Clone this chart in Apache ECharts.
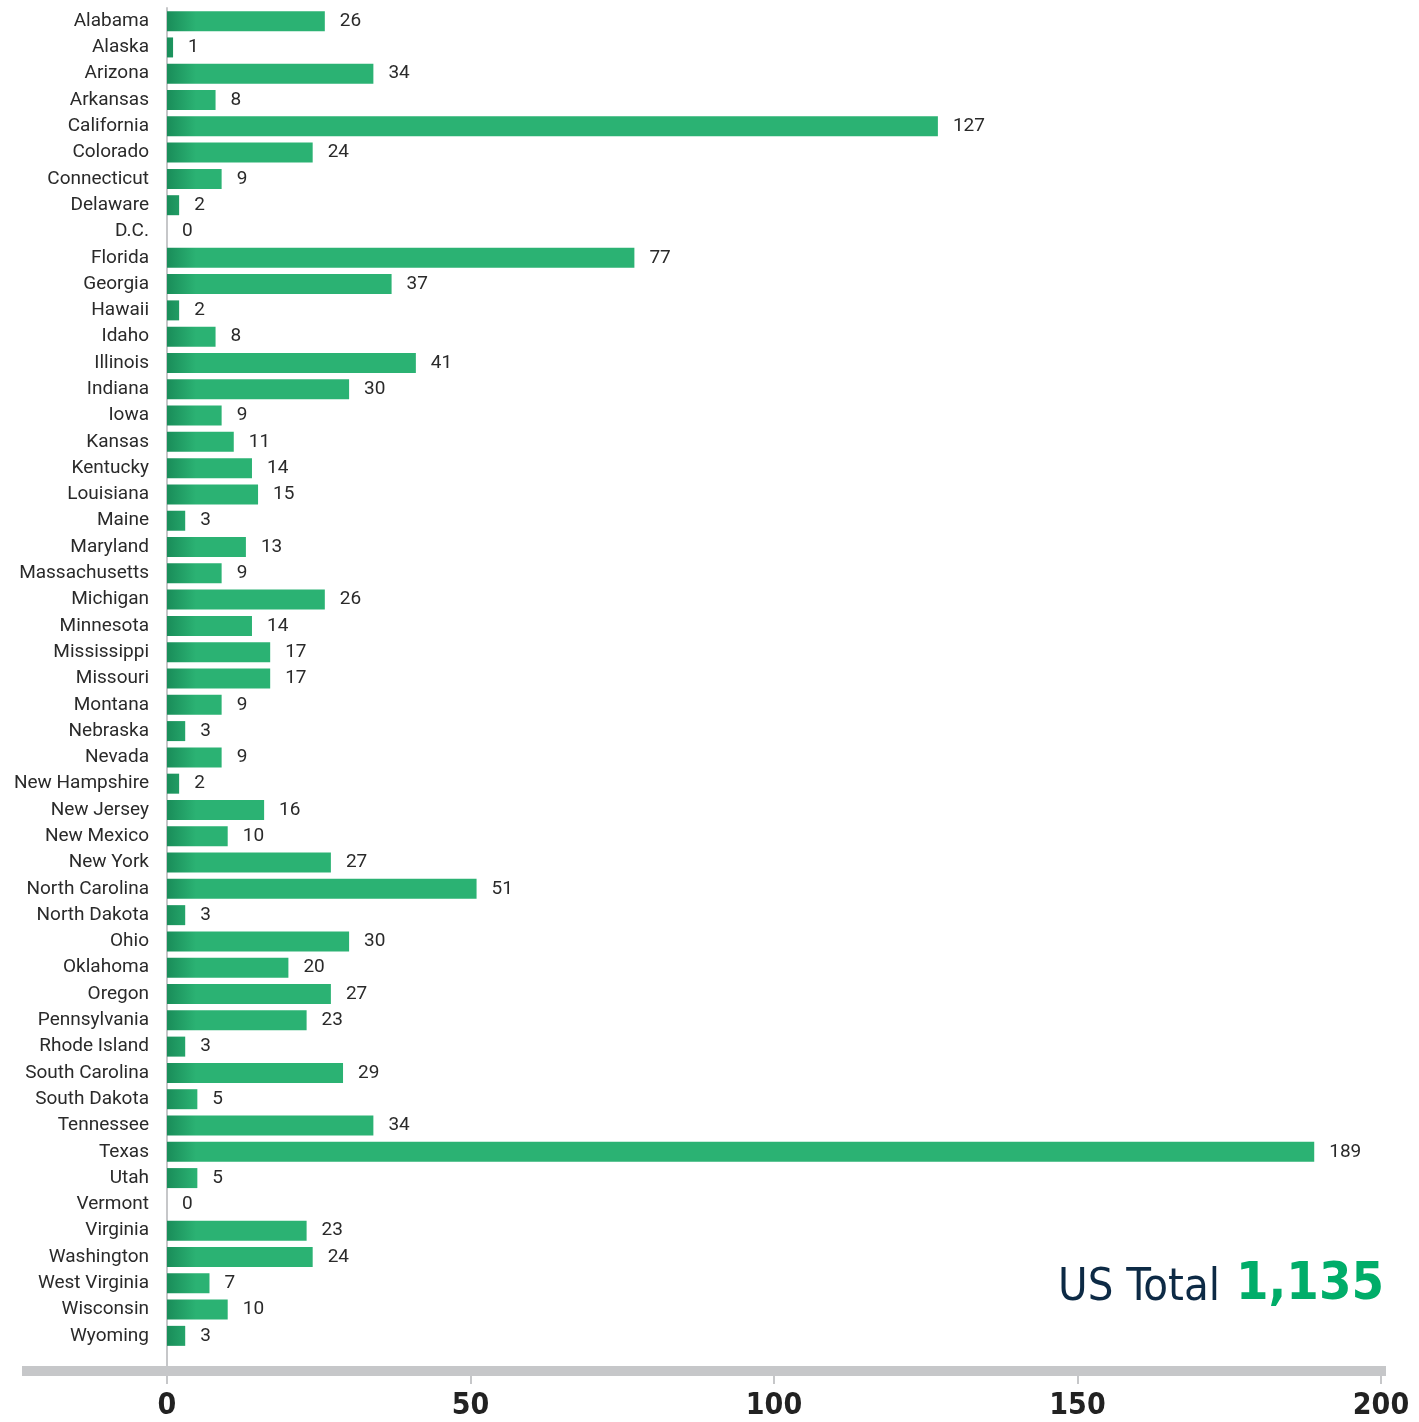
<!DOCTYPE html>
<html>
<head>
<meta charset="utf-8">
<script src="https://cdn.jsdelivr.net/npm/echarts@6/dist/echarts.min.js"></script>
<style>
html,body{margin:0;padding:0;background:#fff;}
#c{width:1419px;height:1422px;}
</style>
</head>
<body>
<div id="c"></div>
<script>
const states = ["Alabama","Alaska","Arizona","Arkansas","California","Colorado","Connecticut","Delaware","D.C.","Florida","Georgia","Hawaii","Idaho","Illinois","Indiana","Iowa","Kansas","Kentucky","Louisiana","Maine","Maryland","Massachusetts","Michigan","Minnesota","Mississippi","Missouri","Montana","Nebraska","Nevada","New Hampshire","New Jersey","New Mexico","New York","North Carolina","North Dakota","Ohio","Oklahoma","Oregon","Pennsylvania","Rhode Island","South Carolina","South Dakota","Tennessee","Texas","Utah","Vermont","Virginia","Washington","West Virginia","Wisconsin","Wyoming"];
const counts = [26,1,34,8,127,24,9,2,0,77,37,2,8,41,30,9,11,14,15,3,13,9,26,14,17,17,9,3,9,2,16,10,27,51,3,30,20,27,23,3,29,5,34,189,5,0,23,24,7,10,3];
const xTicks = [0,50,100,150,200];
const totalLabel = "US Total";
const totalValue = "1,135";

const chart = echarts.init(document.getElementById('c'), null, {renderer:'canvas'});
const labelFont = '"Roboto", "DejaVu Sans", sans-serif';
const condFont = '"DejaVu Sans Condensed", "Roboto", sans-serif';
const option = {
  animation:false,
  backgroundColor:'#ffffff',
  grid:{left:167, right:38, top:8, bottom:73, containLabel:false},
  xAxis:{
    type:'value', min:xTicks[0], max:xTicks[xTicks.length-1], interval:50,
    offset:27,
    axisLine:{show:false},
    axisTick:{show:true, length:8, lineStyle:{color:'#c6c7c9', width:2}},
    splitLine:{show:false},
    axisLabel:{margin:15, color:'#222', fontSize:30, fontWeight:'bold', fontFamily:condFont}
  },
  yAxis:{
    type:'category', data:states, inverse:true,
    axisLine:{show:true, lineStyle:{color:'#c6c7c9', width:2}},
    axisTick:{show:false},
    axisLabel:{margin:18, color:'#2a2a2a', fontSize:19, fontFamily:labelFont}
  },
  series:[{
    type:'bar', data:counts, barWidth:20,
    itemStyle:{color:{type:'linear', x:168, y:0, x2:196, y2:0, global:true,
      colorStops:[{offset:0,color:'#1a8e5a'},{offset:1,color:'#2bb273'}]}},
    label:{show:true, position:'right', distance:15, color:'#2a2a2a', fontSize:19, fontFamily:labelFont}
  }],
  graphic:[
    {type:'rect', shape:{x:22, y:1366, width:1364, height:10}, style:{fill:'#c6c7c9'}, z:1},
    {type:'line', shape:{x1:167, y1:1340, x2:167, y2:1366}, style:{stroke:'#c6c7c9', lineWidth:2}, z:1},
    {type:'text', right:35, top:1259, style:{
      text:'{a|'+totalLabel+'}{s| }{b|'+totalValue+'}',
      rich:{
        a:{fontSize:45, fill:'#0d2a45', fontFamily:condFont, verticalAlign:'bottom'},
        s:{fontSize:45, width:16},
        b:{fontSize:52, fill:'#00ad69', fontWeight:'bold', fontFamily:condFont, verticalAlign:'bottom'}
      }
    }}
  ]
};
chart.setOption(option);
</script>
</body>
</html>
